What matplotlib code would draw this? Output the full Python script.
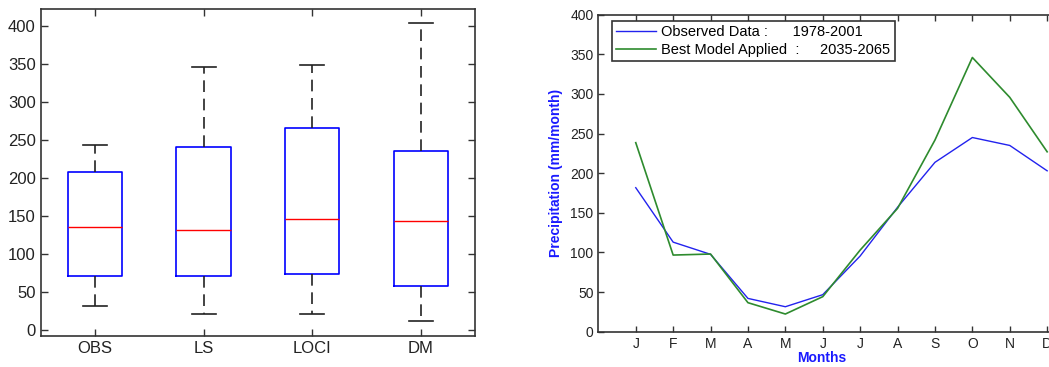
import matplotlib
matplotlib.use("Agg")
import matplotlib.pyplot as plt

plt.rcParams['font.family'] = ['Liberation Sans', 'DejaVu Sans']

# Left panel: boxplot statistics
box_labels = ['OBS', 'LS', 'LOCI', 'DM']
whisk_low = [32, 21.5, 21.5, 12]
q1 = [71.6, 71.6, 74.3, 58.5]
medians = [135, 131.4, 146, 143.3]
q3 = [207.9, 241.3, 266.4, 235.6]
whisk_high = [243.5, 346, 349.5, 404]

# Right panel: monthly precipitation
months = ['J', 'F', 'M', 'A', 'M', 'J', 'J', 'A', 'S', 'O', 'N', 'D']
observed = [181.7, 113, 97.6, 42, 31.5, 46.7, 95.5, 157, 213.7, 245, 235, 203]
model = [238.5, 96.7, 98, 36.6, 22.3, 44.2, 103, 155.6, 241.8, 346, 295.7, 227]
y_ticks = [0, 50, 100, 150, 200, 250, 300, 350, 400]
legend_labels = ['Observed Data :      1978-2001',
                 'Best Model Applied  :     2035-2065']

fig = plt.figure(figsize=(10.49, 3.67), dpi=100)

frame_col = '#333333'

# ---------------- Left panel ----------------
ax1 = fig.add_axes([0.0388, 0.0845, 0.414, 0.891])
stats = []
for i, lab in enumerate(box_labels):
    stats.append(dict(label=lab, whislo=whisk_low[i], q1=q1[i], med=medians[i],
                      q3=q3[i], whishi=whisk_high[i], fliers=[]))
positions = list(range(1, len(box_labels) + 1))
ax1.bxp(stats, positions=positions, widths=0.5, showfliers=False,
        boxprops=dict(color='#0000ff', linewidth=1.2),
        medianprops=dict(color='#ff0000', linewidth=1.0),
        whiskerprops=dict(color='#222222', linewidth=1.2, linestyle=(0, (7, 4))),
        capprops=dict(color='#222222', linewidth=1.2),
        capwidths=0.22)
ax1.set_xlim(0.5, 4.5)
ax1.set_ylim(-8, 423)
ax1.set_yticks(y_ticks)
ax1.set_xticks(positions)
ax1.set_xticklabels(box_labels)
ax1.tick_params(direction='in', length=5, top=True, right=True, labelsize=12,
                color=frame_col, labelcolor='#222222', width=1.0)
for s in ax1.spines.values():
    s.set_color(frame_col)
    s.set_linewidth(1.2)

# ---------------- Right panel ----------------
ax2 = fig.add_axes([0.5704, 0.0962, 0.4635, 0.8638])
x = list(range(1, len(months) + 1))
ax2.plot(x, observed, color='#2222ee', linewidth=1.0, label=legend_labels[0])
ax2.plot(x, model, color='#2e8b2e', linewidth=1.2, label=legend_labels[1])
ax2.set_xlim(0, 13)
ax2.set_ylim(0, 400)
ax2.set_yticks(y_ticks)
ax2.set_xticks(x)
ax2.set_xticklabels(months)
ax2.tick_params(direction='in', length=4, top=True, right=True, labelsize=10,
                color=frame_col, labelcolor='#222222', width=1.0)
for s in ax2.spines.values():
    s.set_color(frame_col)
    s.set_linewidth(1.2)
ax2.set_ylabel('Precipitation (mm/month)', color='#1a1aff', fontweight='bold', fontsize=10)
ax2.yaxis.set_label_coords(-0.072, 0.5)
ax2.set_xlabel('Months', color='#1a1aff', fontweight='bold', fontsize=10)
ax2.xaxis.set_label_coords((821.7 - 598.3) / (1084.5 - 598.3), -0.062)
leg = ax2.legend(loc='upper left', bbox_to_anchor=((611.7 - 598.3) / 486.2, (331.7 - 21) / 317.0),
                 fontsize=10.5, frameon=True, fancybox=False, framealpha=1,
                 edgecolor=frame_col, handlelength=2.75, borderpad=0.3,
                 labelspacing=0.25, handletextpad=0.35, borderaxespad=0)
leg.get_frame().set_linewidth(1.2)

fig.savefig('out.png', dpi=100)
